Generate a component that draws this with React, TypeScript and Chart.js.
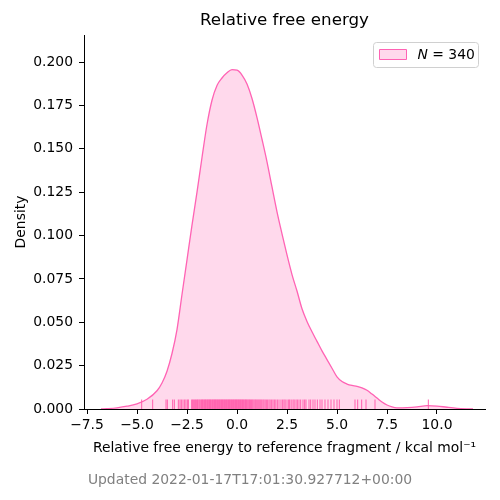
import React, { useEffect, useRef } from "react";
import { Chart, registerables } from "chart.js";

Chart.register(...registerables);

// KDE curve
const kdeX = [
    -6.8, -6.5, -6.0, -5.5, -5.0, -4.5, -4.0, -3.75, -3.5, -3.25, -3.0, -2.75, -2.5, -2.25, -2.0,
    -1.75, -1.5, -1.25, -1.0, -0.75, -0.5, -0.25, 0.0, 0.25, 0.5, 0.75, 1.0, 1.25, 1.5, 1.75, 2.0,
    2.25, 2.5, 2.75, 3.0, 3.25, 3.5, 3.75, 4.0, 4.25, 4.5, 4.75, 5.0, 5.25, 5.5, 5.75, 6.0, 6.25,
    6.5, 6.75, 7.0, 7.25, 7.5, 7.75, 8.0, 8.5, 9.0, 9.5, 10.0, 10.5, 11.0, 11.5, 11.8,
];
const kdeY = [
    0.0, 0.0002, 0.0007, 0.0016, 0.003, 0.0056, 0.0105, 0.015, 0.0218, 0.032, 0.0458, 0.066, 0.086,
    0.106, 0.125, 0.145, 0.164, 0.178, 0.1865, 0.1908, 0.1938, 0.1956, 0.1953, 0.1925, 0.1873, 0.179,
    0.168, 0.1555, 0.1425, 0.128, 0.1137, 0.101, 0.0888, 0.0775, 0.068, 0.0578, 0.0505, 0.0445, 0.039,
    0.0335, 0.0285, 0.0235, 0.0185, 0.0158, 0.0144, 0.0136, 0.0131, 0.0122, 0.0108, 0.0086, 0.0063,
    0.004, 0.0023, 0.0012, 0.0007, 0.0008, 0.0012, 0.0019, 0.0017, 0.001, 0.0004, 0.0001, 0.0,
];

// rug marks (approximate sample positions)
const rugValues = [
    -4.77, -4.22, -3.55, -3.48, -3.22, -3.13, -2.93, -2.85, -2.78, -2.7, -2.62, -2.55, -2.47, -2.43,
    -2.27, -2.22, -2.18, -2.12, -2.08, -2.03, -1.98, -1.95, -1.9, -1.86, -1.81, -1.77, -1.73, -1.7,
    -1.66, -1.62, -1.58, -1.55, -1.51, -1.47, -1.44, -1.4, -1.37, -1.33, -1.3, -1.26, -1.22, -1.19,
    -1.15, -1.12, -1.08, -1.05, -1.01, -0.98, -0.94, -0.91, -0.87, -0.84, -0.8, -0.77, -0.73, -0.7,
    -0.66, -0.63, -0.59, -0.56, -0.52, -0.49, -0.45, -0.42, -0.38, -0.35, -0.31, -0.28, -0.24,
    -0.21, -0.17, -0.14, -0.1, -0.07, -0.03, 0.0, 0.04, 0.07, 0.11, 0.14, 0.18, 0.21, 0.25, 0.28,
    0.32, 0.36, 0.4, 0.43, 0.47, 0.51, 0.55, 0.59, 0.63, 0.67, 0.72, 0.76, 0.8, 0.85, 0.9, 0.94,
    0.99, 1.04, 1.09, 1.14, 1.19, 1.24, 1.3, 1.35, 1.41, 1.47, 1.53, 1.6, 1.66, 1.73, 1.8, 1.87,
    1.94, 2.02, 2.1, 2.2, 2.28, 2.35, 2.41, 2.5, 2.58, 2.63, 2.71, 2.8, 2.86, 2.95, 3.02, 3.1, 3.18,
    3.3, 3.38, 3.45, 3.6, 3.68, 3.8, 3.9, 4.02, 4.15, 4.25, 4.4, 4.55, 4.7, 4.85, 5.0, 5.12, 5.9,
    6.03, 6.23, 6.45, 6.9, 9.57,
];

const xTicks = [-7.5, -5.0, -2.5, 0.0, 2.5, 5.0, 7.5, 10.0];
const yTicks = [0, 0.025, 0.05, 0.075, 0.1, 0.125, 0.15, 0.175, 0.2];

const sampleCount = 340;
const chartTitle = "Relative free energy";
const xLabel = "Relative free energy to reference fragment / kcal mol\u207B\u00B9";
const yLabel = "Density";
const footerText = "Updated 2022-01-17T17:01:30.927712+00:00";

const lineColor = "#ff63b4";
const fillColor = "rgba(255,105,180,0.25)";
const rugColor = "rgba(255,90,170,0.8)";
const fontFamily = "'DejaVu Sans', sans-serif";

const minus = (s: string) => s.replace("-", "\u2212");

const extrasPlugin = {
    id: "extras",
    afterDraw(chart: any) {
        const { ctx, chartArea } = chart;
        ctx.save();
        // title
        ctx.fillStyle = "#000";
        ctx.font = `16.7px ${fontFamily}`;
        ctx.textAlign = "center";
        ctx.textBaseline = "middle";
        ctx.fillText(chartTitle, (chartArea.left + chartArea.right) / 2, 21);

        // footer
        ctx.fillStyle = "#808080";
        ctx.font = `13.9px ${fontFamily}`;
        ctx.fillText(footerText, 250, 480);

        // legend
        const boxW = 105;
        const boxH = 25;
        const bx = chartArea.right - 7 - boxW + 0.5;
        const by = chartArea.top + 7 + 0.5;
        ctx.beginPath();
        ctx.roundRect(bx, by, boxW, boxH, 3);
        ctx.fillStyle = "rgba(255,255,255,0.8)";
        ctx.fill();
        ctx.strokeStyle = "#d0d0d0";
        ctx.lineWidth = 1;
        ctx.stroke();

        ctx.beginPath();
        ctx.rect(bx + 6, by + 7, 27, 10);
        ctx.fillStyle = fillColor;
        ctx.fill();
        ctx.strokeStyle = lineColor;
        ctx.stroke();

        ctx.fillStyle = "#000";
        ctx.textAlign = "left";
        ctx.textBaseline = "middle";
        let tx = bx + 44;
        const ty = by + 12.5;
        ctx.font = `italic 13.9px ${fontFamily}`;
        ctx.fillText("N", tx, ty);
        tx += ctx.measureText("N").width;
        ctx.font = `13.9px ${fontFamily}`;
        ctx.fillText(` = ${sampleCount}`, tx, ty);
        ctx.restore();
    },
};

const App = () => {
    const canvasRef = useRef<HTMLCanvasElement | null>(null);

    useEffect(() => {
        const ctx = canvasRef.current?.getContext("2d");
        if (!ctx) return;

        const chart = new Chart(ctx, {
            type: "line",
            data: {
                datasets: [
                    {
                        type: "scatter",
                        label: "rug",
                        data: rugValues.map((v) => ({ x: v, y: 0.0027 })),
                        pointStyle: "line",
                        rotation: 90,
                        pointRadius: 4.7,
                        pointBorderWidth: 1.2,
                        pointBorderColor: rugColor,
                        borderColor: rugColor,
                        pointHoverRadius: 4.7,
                    } as any,
                    {
                        label: "kde",
                        data: kdeX.map((x, i) => ({ x, y: kdeY[i] })),
                        borderColor: lineColor,
                        borderWidth: 1.3,
                        backgroundColor: fillColor,
                        fill: "origin",
                        pointRadius: 0,
                        cubicInterpolationMode: "monotone",
                    },
                ],
            },
            options: {
                animation: false,
                responsive: false,
                events: [],
                font: { family: fontFamily },
                layout: { padding: { top: 35, right: 15, bottom: 40, left: 0 } },
                plugins: {
                    legend: { display: false },
                    title: { display: false },
                    tooltip: { enabled: false },
                },
                scales: {
                    x: {
                        type: "linear",
                        min: -7.65,
                        max: 12.4,
                        afterBuildTicks: (axis: any) => {
                            axis.ticks = xTicks.map((value) => ({ value }));
                        },
                        afterFit: (axis: any) => {
                            axis.height = 51;
                        },
                        grid: {
                            display: true,
                            drawOnChartArea: false,
                            drawTicks: true,
                            tickLength: 5,
                            color: "#000",
                        },
                        border: { display: true, color: "#000", width: 1 },
                        ticks: {
                            autoSkip: false,
                            maxRotation: 0,
                            padding: 3,
                            color: "#000",
                            font: { size: 13.9, family: fontFamily },
                            callback: (v: any) => minus(Number(v).toFixed(1)),
                        },
                        title: {
                            display: true,
                            text: xLabel,
                            color: "#000",
                            font: { size: 13.9, family: fontFamily },
                            padding: { top: 0, bottom: 3.6 },
                        },
                    },
                    y: {
                        type: "linear",
                        min: 0,
                        max: 0.2156,
                        afterBuildTicks: (axis: any) => {
                            axis.ticks = yTicks.map((value) => ({ value }));
                        },
                        afterFit: (axis: any) => {
                            axis.width = 84;
                        },
                        grid: {
                            display: true,
                            drawOnChartArea: false,
                            drawTicks: true,
                            tickLength: 5,
                            color: "#000",
                        },
                        border: { display: true, color: "#000", width: 1 },
                        ticks: {
                            padding: 6,
                            color: "#000",
                            font: { size: 13.9, family: fontFamily },
                            callback: (v: any) => Number(v).toFixed(3),
                        },
                        title: {
                            display: true,
                            text: yLabel,
                            color: "#000",
                            font: { size: 13.9, family: fontFamily },
                            padding: { top: 12.7, bottom: 0 },
                        },
                    },
                },
            },
            plugins: [extrasPlugin],
        });

        return () => {
            chart.destroy();
        };
    }, []);

    return (
        <div style={{ position: "absolute", left: 0, top: 0, width: 500, height: 500, background: "#fff" }}>
            <canvas ref={canvasRef} width={500} height={500} />
        </div>
    );
};

export default App;
